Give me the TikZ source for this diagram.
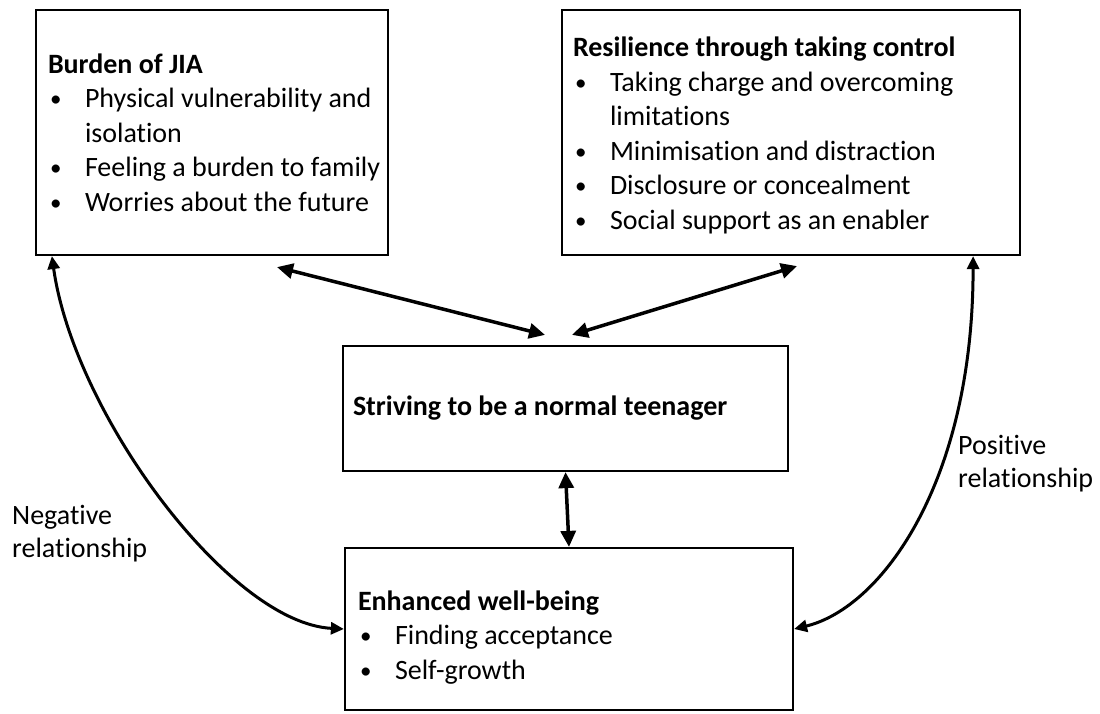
\documentclass[tikz,border=0pt]{standalone}
\usepackage{fontspec}
\setmainfont{Carlito}[Ligatures=NoCommon]
\usetikzlibrary{arrows.meta}

\newcommand{\bul}[1]{\makebox[37pt][l]{\hspace{2pt}\raisebox{1pt}{\fontsize{23}{23}\selectfont\textbullet}}\mbox{#1}}
\newcommand{\bulind}[1]{\hspace*{37pt}\mbox{#1}}

\tikzset{
  box/.style={draw, line width=2.2pt, align=flush left, inner ysep=0pt,
    font=\fontsize{28}{34.5}\selectfont},
  note/.style={anchor=west, align=left, inner sep=0pt,
    font=\fontsize{28}{33}\selectfont},
  link/.style={line width=3.5pt,
    {Triangle[length=16pt,width=15pt]}-{Triangle[length=16pt,width=15pt]}},
  curvelink/.style={line width=3pt,
    {Triangle[length=13pt,width=12pt]}-{Triangle[length=13pt,width=12pt]}}
}

\begin{document}
\begin{tikzpicture}[x=1pt,y=1pt]
\useasboundingbox (0,0) rectangle (1100,713);

% the four themes
\node[box, inner xsep=12pt, text width=328pt, minimum height=245pt] (burden) at (212,580.5)
  {\mbox{\textbf{Burden of JIA}}\\
   \bul{Physical vulnerability and}\\
   \bulind{isolation}\\
   \bul{Feeling a burden to family}\\
   \bul{Worries about the future}};
\node[box, inner xsep=11pt, text width=436pt, minimum height=245pt] (resilience) at (791,580.5)
  {\rule{0pt}{26pt}\mbox{\textbf{Resilience through taking control}}\\
   \bul{Taking charge and overcoming}\\
   \bulind{limitations}\\
   \bul{Minimisation and distraction}\\
   \bul{Disclosure or concealment}\\
   \bul{Social support as an enabler}};
\node[box, inner xsep=10pt, text width=425pt, minimum height=125pt] (striving) at (565.5,304.5)
  {\mbox{\textbf{Striving to be a normal teenager}}};
\node[box, inner xsep=13pt, text width=422pt, minimum height=162pt] (wellbeing) at (569,84)
  {\rule{0pt}{36pt}\mbox{\textbf{Enhanced well-being}}\\
   \bul{Finding acceptance}\\
   \bul{Self-growth}};

% links
\draw[link] ([xshift=65pt,yshift=-11pt]burden.south) -- ([xshift=-20.5pt,yshift=10pt]striving.north);
\draw[link] ([xshift=6pt,yshift=-10pt]resilience.south) -- ([xshift=6.5pt,yshift=10pt]striving.north);
\draw[link] (striving.south) -- (wellbeing.north);
\draw[curvelink] ([xshift=17pt]burden.south west) .. controls +(22,-157) and +(-115,6) .. (wellbeing.west);
\draw[curvelink] ([xshift=-48pt]resilience.south east) .. controls +(0,-227) and +(87,21) .. (wellbeing.east);

\node[note] (neg) at (12,179) {Negative\\relationship};
\node[note] (pos) at (958,249) {Positive\\relationship};
\end{tikzpicture}
\end{document}
